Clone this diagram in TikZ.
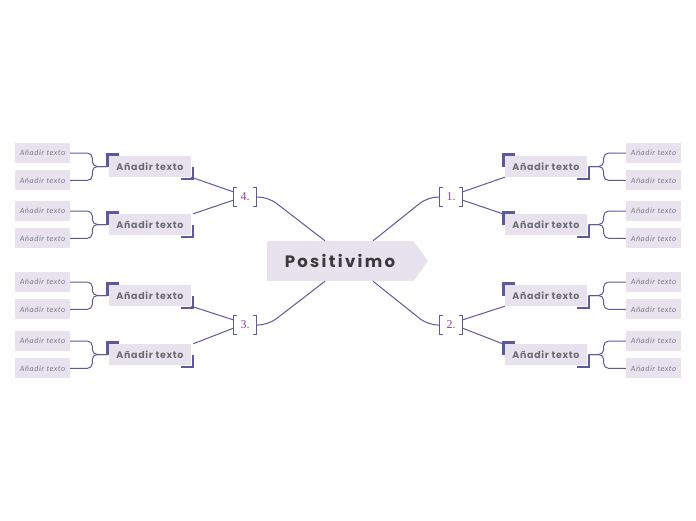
\documentclass[tikz,border=0pt]{standalone}
\usepackage{fontspec}
\usepackage{xcolor}
\usepackage{tikz}
\usetikzlibrary{positioning}
\newfontfamily\popfont{Poppins}[LetterSpace=14]
\newfontfamily\topicfont{Poppins}[LetterSpace=7]
\newfontfamily\leaffont{Carlito}[LetterSpace=7]
\newfontfamily\numfont{Liberation Serif}
\definecolor{linec}{RGB}{92,90,156}
\definecolor{boxfill}{RGB}{231,226,238}
\definecolor{boxtext}{RGB}{108,108,114}
\definecolor{leaftext}{RGB}{122,122,132}
\definecolor{maintext}{RGB}{58,58,60}
\definecolor{numtext}{RGB}{142,62,142}

\begin{document}
\begin{tikzpicture}[
        x=1pt, y=-1pt,
        central/.style={
            rectangle,
            fill=boxfill,
            minimum width=146pt,
            minimum height=40pt,
            inner sep=0pt,
            text=maintext,
            font=\popfont\bfseries\fontsize{16.5}{18}\selectfont
        },
        topic/.style={
            rectangle,
            fill=boxfill,
            minimum width=82pt,
            minimum height=21pt,
            inner sep=0pt,
            text=boxtext,
            font=\topicfont\bfseries\fontsize{9.5}{11}\selectfont
        },
        leaf/.style={
            rectangle,
            fill=boxfill,
            minimum width=55pt,
            minimum height=20pt,
            inner sep=0pt,
            text=leaftext,
            font=\leaffont\itshape\fontsize{8}{9}\selectfont
        },
        numnode/.style={
            rectangle,
            minimum width=22pt,
            minimum height=18pt,
            inner sep=0pt,
            text=numtext,
            font=\numfont\fontsize{12}{13}\selectfont
        },
        conn/.style={draw=linec, line width=1pt},
        brk/.style={draw=linec, line width=0.8pt},
        accent/.style={draw=linec, line width=2.4pt}
    ]

    \useasboundingbox (0,0) rectangle (696,520);

    % centre
    \node (main) [central] at (340,261) {Positivimo};
    \fill [boxfill] (main.north east) -- ([xshift=15pt]main.east) -- (main.south east) -- cycle;

    % numbered brackets
    \node (b1) [numnode] at (451,197) {1.};
    \node (b2) [numnode] at (451,325) {2.};
    \node (b3) [numnode] at (245,325) {3.};
    \node (b4) [numnode] at (245,197) {4.};

    % topics
    \node (r1) [topic] at (546,166.5) {Añadir texto};
    \node (r2) [topic] at (546,224.5) {Añadir texto};
    \node (r3) [topic] at (546,295.5) {Añadir texto};
    \node (r4) [topic] at (546,354.5) {Añadir texto};
    \node (l1) [topic] at (150,166.5) {Añadir texto};
    \node (l2) [topic] at (150,224.5) {Añadir texto};
    \node (l3) [topic] at (150,295.5) {Añadir texto};
    \node (l4) [topic] at (150,354.5) {Añadir texto};

    % leaves
    \node (r1a) [leaf] at (653.5,153) {Añadir texto};
    \node (r1b) [leaf, below=7pt of r1a] {Añadir texto};
    \node (r2a) [leaf] at (653.5,211) {Añadir texto};
    \node (r2b) [leaf, below=7pt of r2a] {Añadir texto};
    \node (r3a) [leaf] at (653.5,282) {Añadir texto};
    \node (r3b) [leaf, below=7pt of r3a] {Añadir texto};
    \node (r4a) [leaf] at (653.5,341) {Añadir texto};
    \node (r4b) [leaf, below=7pt of r4a] {Añadir texto};
    \node (l1a) [leaf] at (42.5,153) {Añadir texto};
    \node (l1b) [leaf, below=7pt of l1a] {Añadir texto};
    \node (l2a) [leaf] at (42.5,211) {Añadir texto};
    \node (l2b) [leaf, below=7pt of l2a] {Añadir texto};
    \node (l3a) [leaf] at (42.5,282) {Añadir texto};
    \node (l3b) [leaf, below=7pt of l3a] {Añadir texto};
    \node (l4a) [leaf] at (42.5,341) {Añadir texto};
    \node (l4b) [leaf, below=7pt of l4a] {Añadir texto};

    % bracket marks
    \foreach \b in {b1,b2,b3,b4} {
        \draw [brk] ([xshift=3pt]\b.north west) -- (\b.north west) -- (\b.south west) -- ([xshift=3pt]\b.south west);
        \draw [brk] ([xshift=-3pt]\b.north east) -- (\b.north east) -- (\b.south east) -- ([xshift=-3pt]\b.south east);
    }

    % corner accents
    \foreach \t in {r1,r2,r3,r4,l1,l2,l3,l4} {
        \draw [accent] ([xshift=10pt,yshift=1.5pt]\t.north west) -| ([xshift=-1.5pt]\t.west);
        \draw [accent] ([xshift=-10pt,yshift=-1.5pt]\t.south east) -| ([xshift=1.5pt]\t.east);
    }

    % centre to brackets
    \draw [conn, rounded corners=10pt] ([xshift=33pt]main.north) -- ([xshift=-12pt]b1.west) -- (b1.west);
    \draw [conn, rounded corners=10pt] ([xshift=33pt]main.south) -- ([xshift=-12pt]b2.west) -- (b2.west);
    \draw [conn, rounded corners=10pt] ([xshift=-15pt]main.south) -- ([xshift=12pt]b3.east) -- (b3.east);
    \draw [conn, rounded corners=10pt] ([xshift=-15pt]main.north) -- ([xshift=12pt]b4.east) -- (b4.east);

    % brackets to topics
    \draw [conn] ([yshift=5pt]b1.east) -- (r1.south west);
    \draw [conn] ([yshift=-3pt]b1.east) -- ([xshift=-2pt]r2.north west);
    \draw [conn] ([yshift=5pt]b2.east) -- (r3.south west);
    \draw [conn] ([yshift=-3pt]b2.east) -- ([xshift=-2pt]r4.north west);
    \draw [conn] ([yshift=5pt]b4.west) -- (l1.south east);
    \draw [conn] ([yshift=-3pt]b4.west) -- ([xshift=2pt]l2.north east);
    \draw [conn] ([yshift=5pt]b3.west) -- (l3.south east);
    \draw [conn] ([yshift=-3pt]b3.west) -- ([xshift=2pt]l4.north east);

    % topics to leaves
    \foreach \t in {r1,r2,r3,r4} {
        \draw [conn, rounded corners=5pt] ([xshift=1.5pt]\t.east) -- ++(15,0) |- (\t a.west);
        \draw [conn, rounded corners=5pt] ([xshift=1.5pt]\t.east) -- ++(15,0) |- (\t b.west);
    }
    \foreach \t in {l1,l2,l3,l4} {
        \draw [conn, rounded corners=5pt] ([xshift=-1.5pt]\t.west) -- ++(-15,0) |- (\t a.east);
        \draw [conn, rounded corners=5pt] ([xshift=-1.5pt]\t.west) -- ++(-15,0) |- (\t b.east);
    }

\end{tikzpicture}
\end{document}
